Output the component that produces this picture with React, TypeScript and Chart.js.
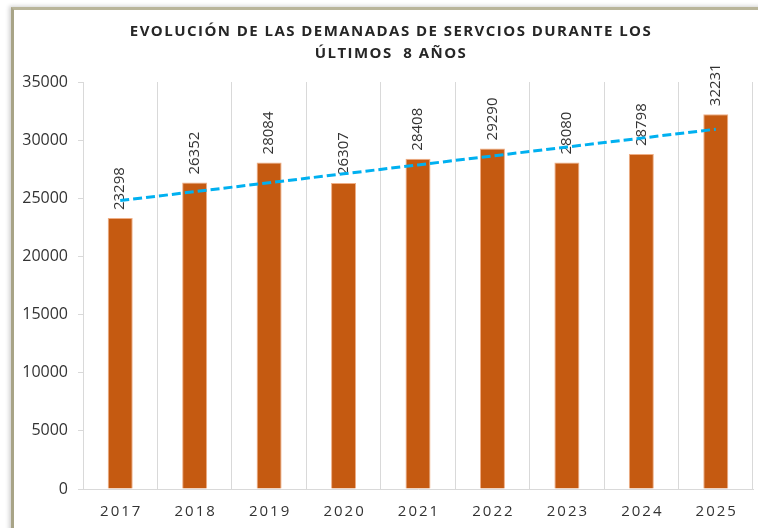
import React, { useEffect, useRef } from "react";
import { Chart, registerables } from "chart.js";

Chart.register(...registerables);

const CATEGORIES = ["2017", "2018", "2019", "2020", "2021", "2022", "2023", "2024", "2025"];
const DEMANDAS = [23298, 26352, 28084, 26307, 28408, 29290, 28080, 28798, 32231];
const TITLE_LINES = ["EVOLUCIÓN DE LAS DEMANADAS DE SERVCIOS DURANTE LOS", "ÚLTIMOS  8 AÑOS"];
const Y_MIN = 0;
const Y_MAX = 35000;
const Y_STEP = 5000;

// Linear (least squares) trendline fitted to the data, like the spreadsheet trendline
function linearTrend(values: number[]): number[] {
  const n = values.length;
  const mx = (n - 1) / 2;
  const my = values.reduce((a, b) => a + b, 0) / n;
  let sxy = 0;
  let sxx = 0;
  values.forEach((v, i) => {
    sxy += (i - mx) * (v - my);
    sxx += (i - mx) * (i - mx);
  });
  const slope = sxy / sxx;
  return values.map((_, i) => my + slope * (i - mx));
}

const FONT = "'Open Sans', 'DejaVu Sans', sans-serif";
const TEXT_COLOR = "#333333";

const customDraw = {
  id: "customDraw",
  afterDatasetDraw(chart: any, args: any) {
    if (args.index !== 0) return;
    const ctx = chart.ctx;
    const meta = chart.getDatasetMeta(0);
    ctx.save();
    ctx.font = `15px ${FONT}`;
    ctx.fillStyle = TEXT_COLOR;
    ctx.textAlign = "left";
    ctx.textBaseline = "middle";
    meta.data.forEach((bar: any, i: number) => {
      ctx.save();
      ctx.translate(bar.x, bar.y - 8);
      ctx.rotate(-Math.PI / 2);
      ctx.fillText(String(DEMANDAS[i]), 0, 0);
      ctx.restore();
    });
    ctx.restore();
  },
  afterDraw(chart: any) {
    const ctx = chart.ctx;
    ctx.save();
    // title
    ctx.fillStyle = "#262626";
    ctx.font = `bold 15px ${FONT}`;
    (ctx as any).letterSpacing = "1.45px";
    ctx.textAlign = "center";
    ctx.textBaseline = "middle";
    ctx.fillText(TITLE_LINES[0], 391, 32);
    ctx.fillText(TITLE_LINES[1], 391, 54);
    // x labels
    const xs = chart.scales.x;
    ctx.fillStyle = TEXT_COLOR;
    ctx.font = `15px ${FONT}`;
    (ctx as any).letterSpacing = "2px";
    CATEGORIES.forEach((c, i) => {
      ctx.fillText(c, xs.getPixelForValue(i) + 1, 512);
    });
    ctx.restore();
  },
};

export default function App() {
  const ref = useRef<HTMLCanvasElement | null>(null);
  useEffect(() => {
    if (!ref.current) return;
    const chart = new Chart(ref.current, {
      type: "bar",
      data: {
        labels: CATEGORIES,
        datasets: [
          {
            type: "bar",
            label: "Demandas",
            data: DEMANDAS,
            backgroundColor: "#C55A11",
            borderColor: "#EFAE85",
            borderWidth: 1,
            categoryPercentage: 1,
            barPercentage: 0.336,
            order: 1,
          } as any,
          {
            type: "line",
            label: "Tendencia",
            data: linearTrend(DEMANDAS),
            borderColor: "#00B0F0",
            borderWidth: 3,
            borderDash: [9, 4],
            pointRadius: 0,
            fill: false,
            tension: 0,
            order: 0,
          } as any,
        ],
      },
      options: {
        responsive: false,
        animation: false,
        devicePixelRatio: 1,
        layout: { padding: { top: 82, left: 0, right: 37, bottom: 0 } },
        plugins: {
          legend: { display: false },
          title: { display: false },
          tooltip: { enabled: false },
        },
        scales: {
          x: {
            grid: {
              display: true,
              offset: true,
              color: "#D9D9D9",
              lineWidth: 1,
              drawTicks: false,
            },
            border: { display: true, color: "#D9D9D9" },
            ticks: { display: false },
            afterFit(scale: any) {
              scale.height = 39;
            },
          },
          y: {
            min: Y_MIN,
            max: Y_MAX,
            ticks: {
              stepSize: Y_STEP,
              color: TEXT_COLOR,
              font: { family: FONT, size: 16 },
              padding: 10,
              callback: (v: any) => String(v),
            },
            grid: {
              display: true,
              drawOnChartArea: false,
              drawTicks: true,
              tickLength: 5,
              color: "#D9D9D9",
            },
            border: { display: true, color: "#D9D9D9" },
            afterFit(scale: any) {
              scale.width = 83;
            },
          },
        },
      },
      plugins: [customDraw],
    });
    return () => chart.destroy();
  }, []);

  return (
    <div
      style={{
        position: "absolute",
        left: 0,
        top: 0,
        width: 758,
        height: 528,
        overflow: "hidden",
        background: "#ffffff",
      }}
    >
      <div
        style={{
          position: "absolute",
          left: 11,
          top: 7,
          width: 820,
          height: 600,
          borderLeft: "3px solid #A8A487",
          borderTop: "3px solid #B9B59A",
          boxShadow: "-2px -1px 4px rgba(0,0,0,0.18)",
        }}
      />
      <canvas
        ref={ref}
        width={790}
        height={528}
        style={{ position: "absolute", left: 0, top: 0, width: 790, height: 528 }}
      />
    </div>
  );
}
